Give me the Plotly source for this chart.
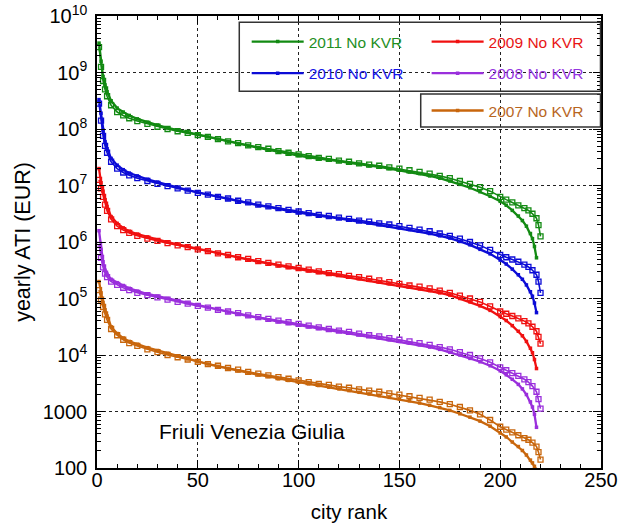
import plotly.graph_objects as go

# City rank positions (solid series "a" and companion series "b")
rank_a = [1, 2, 3, 4, 5, 7, 10, 13, 16,
          20, 25, 30, 35, 40, 45, 50, 55, 60, 65, 70, 75, 80, 85, 90, 95, 100,
          105, 110, 115, 120, 125, 130, 135, 140, 145, 150, 155, 160, 165, 170,
          175, 180, 185, 190, 195, 200,
          203, 206, 209, 211, 213, 215, 216, 217, 218]
rank_b = [1, 2, 3, 4, 5, 7, 10, 13, 16,
          20, 25, 30, 35, 40, 45, 50, 55, 60, 65, 70, 75, 80, 85, 90, 95, 100,
          105, 110, 115, 120, 125, 130, 135, 140, 145, 150, 155, 160, 165, 170,
          175, 180, 185, 190, 195, 200,
          203, 206, 209, 212, 214, 216, 218, 219, 220]

# log10 of yearly ATI (EUR), per year
log_2011_a = [9.52, 9.20, 8.93, 8.78, 8.66, 8.50, 8.37, 8.30, 8.24,
              8.18, 8.12, 8.07, 8.02, 7.98, 7.94, 7.90, 7.86, 7.82, 7.78, 7.74, 7.70, 7.67, 7.63, 7.60, 7.56, 7.53,
              7.50, 7.48, 7.45, 7.43, 7.40, 7.38, 7.35, 7.33, 7.30, 7.27, 7.24, 7.21, 7.17, 7.13,
              7.08, 7.02, 6.96, 6.89, 6.81, 6.72,
              6.65, 6.56, 6.46, 6.38, 6.28, 6.15, 6.06, 5.92, 5.72]
log_2011_b = [9.45, 9.10, 8.85, 8.70, 8.58, 8.42, 8.30, 8.24, 8.19,
              8.14, 8.09, 8.04, 8.00, 7.96, 7.93, 7.89, 7.86, 7.82, 7.78, 7.75, 7.71, 7.68, 7.65, 7.61, 7.58, 7.55,
              7.52, 7.49, 7.47, 7.44, 7.42, 7.39, 7.37, 7.35, 7.32, 7.30, 7.27, 7.24, 7.21, 7.17,
              7.13, 7.08, 7.03, 6.97, 6.90, 6.80,
              6.75, 6.70, 6.65, 6.60, 6.56, 6.50, 6.42, 6.30, 6.10]

log_2010_a = [8.52, 8.28, 7.98, 7.78, 7.65, 7.48, 7.36, 7.28, 7.22,
              7.17, 7.11, 7.06, 7.01, 6.96, 6.92, 6.88, 6.84, 6.80, 6.76, 6.72, 6.69, 6.65, 6.62, 6.58, 6.55, 6.52,
              6.49, 6.47, 6.44, 6.42, 6.39, 6.37, 6.34, 6.31, 6.28, 6.25, 6.22, 6.19, 6.15, 6.11,
              6.07, 6.01, 5.95, 5.87, 5.79, 5.68,
              5.61, 5.52, 5.42, 5.34, 5.24, 5.12, 5.04, 4.92, 4.75]
log_2010_b = [8.45, 8.15, 7.88, 7.70, 7.58, 7.42, 7.30, 7.23, 7.18,
              7.13, 7.08, 7.03, 6.99, 6.95, 6.91, 6.87, 6.84, 6.80, 6.77, 6.73, 6.70, 6.66, 6.63, 6.60, 6.57, 6.54,
              6.51, 6.48, 6.46, 6.43, 6.41, 6.38, 6.36, 6.33, 6.31, 6.28, 6.25, 6.22, 6.19, 6.15,
              6.11, 6.06, 6.00, 5.94, 5.86, 5.77,
              5.73, 5.69, 5.65, 5.60, 5.56, 5.50, 5.42, 5.30, 5.10]

log_2009_a = [7.30, 7.05, 6.90, 6.75, 6.63, 6.45, 6.33, 6.25, 6.19,
              6.14, 6.09, 6.04, 6.00, 5.96, 5.92, 5.88, 5.84, 5.80, 5.76, 5.72, 5.69, 5.65, 5.62, 5.58, 5.55, 5.52,
              5.49, 5.46, 5.43, 5.41, 5.38, 5.35, 5.32, 5.29, 5.26, 5.23, 5.20, 5.17, 5.14, 5.10,
              5.06, 5.00, 4.94, 4.87, 4.79, 4.68,
              4.61, 4.52, 4.42, 4.34, 4.24, 4.12, 4.04, 3.92, 3.76]
log_2009_b = [7.10, 6.95, 6.80, 6.66, 6.55, 6.40, 6.28, 6.21, 6.16,
              6.11, 6.06, 6.02, 5.98, 5.94, 5.91, 5.87, 5.84, 5.80, 5.77, 5.73, 5.70, 5.66, 5.63, 5.60, 5.57, 5.54,
              5.51, 5.48, 5.45, 5.43, 5.40, 5.38, 5.35, 5.32, 5.29, 5.26, 5.23, 5.21, 5.18, 5.14,
              5.10, 5.05, 5.00, 4.94, 4.86, 4.77,
              4.73, 4.69, 4.65, 4.60, 4.56, 4.50, 4.42, 4.32, 4.20]

log_2008_a = [6.20, 5.87, 5.65, 5.50, 5.43, 5.34, 5.28, 5.23, 5.18,
              5.13, 5.08, 5.04, 5.00, 4.96, 4.92, 4.88, 4.84, 4.80, 4.76, 4.73, 4.69, 4.66, 4.62, 4.59, 4.56, 4.53,
              4.50, 4.47, 4.44, 4.42, 4.39, 4.36, 4.33, 4.30, 4.27, 4.24, 4.21, 4.18, 4.14, 4.10,
              4.05, 4.00, 3.94, 3.88, 3.81, 3.72,
              3.65, 3.57, 3.48, 3.40, 3.30, 3.17, 3.08, 2.95, 2.72]
log_2008_b = [5.95, 5.72, 5.55, 5.44, 5.38, 5.30, 5.24, 5.19, 5.15,
              5.10, 5.06, 5.02, 4.98, 4.94, 4.91, 4.87, 4.84, 4.80, 4.77, 4.74, 4.70, 4.67, 4.64, 4.61, 4.58, 4.55,
              4.52, 4.49, 4.46, 4.43, 4.41, 4.38, 4.35, 4.33, 4.30, 4.27, 4.24, 4.21, 4.18, 4.14,
              4.10, 4.05, 4.00, 3.94, 3.87, 3.78,
              3.73, 3.68, 3.63, 3.57, 3.52, 3.45, 3.35, 3.22, 3.05]

log_2007_a = [5.30, 5.10, 4.93, 4.80, 4.69, 4.50, 4.38, 4.30, 4.24,
              4.19, 4.13, 4.08, 4.03, 3.98, 3.93, 3.88, 3.84, 3.80, 3.76, 3.72, 3.69, 3.65, 3.62, 3.58, 3.55, 3.52,
              3.49, 3.46, 3.43, 3.40, 3.37, 3.34, 3.31, 3.28, 3.25, 3.22, 3.19, 3.15, 3.11, 3.07,
              3.02, 2.96, 2.90, 2.83, 2.74, 2.62,
              2.55, 2.46, 2.38, 2.31, 2.23, 2.14, 2.09, 2.03, 1.97]
log_2007_b = [5.15, 4.98, 4.85, 4.72, 4.62, 4.46, 4.35, 4.27, 4.21,
              4.16, 4.10, 4.05, 4.00, 3.96, 3.92, 3.88, 3.84, 3.81, 3.77, 3.74, 3.70, 3.67, 3.64, 3.61, 3.58, 3.55,
              3.52, 3.49, 3.47, 3.44, 3.42, 3.39, 3.37, 3.35, 3.32, 3.30, 3.27, 3.24, 3.21, 3.17,
              3.13, 3.08, 3.02, 2.95, 2.85, 2.73,
              2.68, 2.63, 2.58, 2.53, 2.50, 2.45, 2.38, 2.28, 2.15]

series_names = ["2011 No KVR", "2009 No KVR", "2010 No KVR", "2008 No KVR", "2007 No KVR"]
series_a = [log_2011_a, log_2009_a, log_2010_a, log_2008_a, log_2007_a]
series_b = [log_2011_b, log_2009_b, log_2010_b, log_2008_b, log_2007_b]
line_colors = ["#128a12", "#f01010", "#0c0cd6", "#9a2fdc", "#c8660c"]
text_colors = ["#1f8f1f", "#e81515", "#1515e6", "#9535e0", "#b8661e"]
legend_ids = ["legend", "legend2", "legend3", "legend4", "legend5"]

y_tick_vals = [1e2, 1e3, 1e4, 1e5, 1e6, 1e7, 1e8, 1e9, 1e10]
y_tick_text = ["100", "1000", "10<sup>4</sup>", "10<sup>5</sup>", "10<sup>6</sup>",
               "10<sup>7</sup>", "10<sup>8</sup>", "10<sup>9</sup>", "10<sup>10</sup>"]
x_tick_vals = [0, 50, 100, 150, 200, 250]

FONT = "Liberation Sans, Arial, Helvetica, sans-serif"

fig = go.Figure()
for name, ya, yb, lc, tc, lg in zip(series_names, series_a, series_b,
                                    line_colors, text_colors, legend_ids):
    fig.add_trace(go.Scatter(
        x=rank_b, y=[10 ** v for v in yb], mode="lines+markers",
        line=dict(color=lc, width=1.6),
        marker=dict(symbol="square-open", size=5, color=lc, line=dict(width=1.3)),
        showlegend=False, hoverinfo="skip"))
    fig.add_trace(go.Scatter(
        x=rank_a, y=[10 ** v for v in ya], mode="lines+markers",
        name=f"<span style='color:{tc}'>{name}</span>",
        line=dict(color=lc, width=2.3),
        marker=dict(symbol="square", size=3.5, color=lc),
        legend=lg))

# Legend placement (paper coordinates of each entry)
row1_y, row2_y, row3_y = 0.9425, 0.8725, 0.790
col1_x, col2_x = 0.297, 0.654
legend_pos = {
    "legend": (col1_x, row1_y),
    "legend2": (col2_x, row1_y),
    "legend3": (col1_x, row2_y),
    "legend4": (col2_x, row2_y),
    "legend5": (col2_x, row3_y),
}
legend_common = dict(bgcolor="rgba(0,0,0,0)", borderwidth=0,
                     font=dict(family=FONT, size=15.5), itemwidth=52,
                     xanchor="left", yanchor="middle")
layout_legends = {k: dict(x=v[0], y=v[1], **legend_common) for k, v in legend_pos.items()}

fig.update_layout(
    width=625, height=526,
    margin=dict(l=97, r=24, t=16, b=58),
    paper_bgcolor="white", plot_bgcolor="white",
    font=dict(family=FONT, color="black"),
    **layout_legends,
    xaxis=dict(
        range=[0, 250], tickvals=x_tick_vals, ticks="inside", ticklen=8,
        tickwidth=1.2, tickcolor="black", showline=True, linecolor="black",
        linewidth=1.5, mirror="allticks", showgrid=True, gridcolor="#222",
        griddash="dot", gridwidth=1, zeroline=False, automargin=False,
        tickfont=dict(size=20), ticklabelstandoff=-7,
        minor=dict(dtick=10, ticks="inside", ticklen=4, tickcolor="black", showgrid=False),
        title=dict(text="city rank", font=dict(size=20.5), standoff=15),
    ),
    yaxis=dict(
        type="log", range=[2, 10], tickvals=y_tick_vals, ticktext=y_tick_text,
        ticks="inside", ticklen=8, tickwidth=1.2, tickcolor="black",
        showline=True, linecolor="black", linewidth=1.5, mirror="allticks",
        showgrid=True, gridcolor="#222", griddash="dot", gridwidth=1,
        zeroline=False, automargin=False, tickfont=dict(size=20), ticklabelstandoff=4,
        minor=dict(tickvals=[k * 10 ** e for e in range(2, 10) for k in range(2, 10)],
                   ticks="inside", ticklen=4, tickcolor="black", showgrid=False),
        title=dict(text="yearly ATI (EUR)", font=dict(size=21.5), standoff=6),
    ),
    shapes=[
        dict(type="rect", xref="paper", yref="paper", x0=0.2823, x1=0.999,
             y0=0.8337, y1=0.986, line=dict(color="#333", width=1.5)),
        dict(type="rect", xref="paper", yref="paper", x0=0.6423, x1=0.999,
             y0=0.7545, y1=0.8277, line=dict(color="#333", width=1.5)),
    ],
    annotations=[
        dict(text="Friuli Venezia Giulia", xref="paper", yref="paper",
             x=0.119, y=0.08, xanchor="left", yanchor="middle", showarrow=False,
             font=dict(size=21, color="black")),
    ],
)

fig.write_html("out.html")
